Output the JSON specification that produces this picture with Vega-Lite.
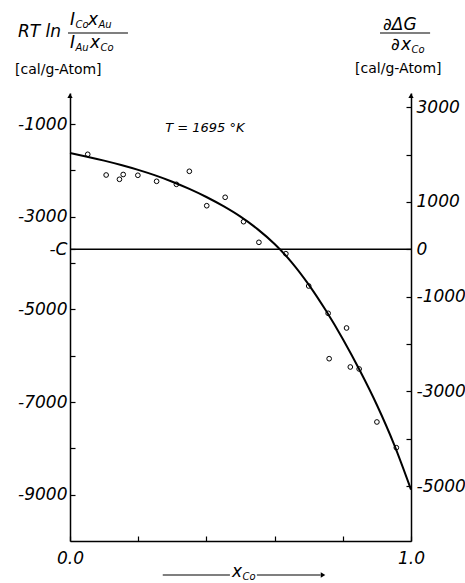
{
  "$schema": "https://vega.github.io/schema/vega-lite/v6.json",
  "width": 341,
  "height": 448,
  "autosize": {"type": "none"},
  "padding": {"left": 70, "top": 93, "right": 54, "bottom": 42},
  "background": "white",
  "config": {
    "view": {"stroke": null},
    "axis": {
      "grid": false,
      "domainColor": "black",
      "domainWidth": 1.5,
      "tickColor": "black",
      "tickWidth": 1.2,
      "tickSize": -5,
      "labelColor": "black",
      "labelFont": "DejaVu Sans",
      "labelFontStyle": "italic",
      "labelFontSize": 17,
      "title": null
    },
    "text": {"font": "DejaVu Sans", "color": "black"}
  },
  "datasets": {
    "obs": [
      {"x": 0.052, "y": -1653}, {"x": 0.106, "y": -2100}, {"x": 0.145, "y": -2193},
      {"x": 0.156, "y": -2089}, {"x": 0.199, "y": -2106}, {"x": 0.254, "y": -2236},
      {"x": 0.312, "y": -2301}, {"x": 0.350, "y": -2020}, {"x": 0.401, "y": -2763},
      {"x": 0.455, "y": -2581}, {"x": 0.509, "y": -3108}, {"x": 0.554, "y": -3553},
      {"x": 0.633, "y": -3799}, {"x": 0.700, "y": -4496}, {"x": 0.757, "y": -5085},
      {"x": 0.811, "y": -5402}, {"x": 0.760, "y": -6065}, {"x": 0.822, "y": -6244},
      {"x": 0.848, "y": -6287}, {"x": 0.900, "y": -7431}, {"x": 0.957, "y": -7986}
    ],
    "fit": [
      {"x": 0.00, "y": -1625}, {"x": 0.05, "y": -1704}, {"x": 0.10, "y": -1790},
      {"x": 0.15, "y": -1885}, {"x": 0.20, "y": -1990}, {"x": 0.25, "y": -2109},
      {"x": 0.30, "y": -2245}, {"x": 0.35, "y": -2400}, {"x": 0.40, "y": -2575},
      {"x": 0.45, "y": -2774}, {"x": 0.50, "y": -3000}, {"x": 0.55, "y": -3268},
      {"x": 0.60, "y": -3590}, {"x": 0.65, "y": -3984}, {"x": 0.70, "y": -4465},
      {"x": 0.75, "y": -5021}, {"x": 0.80, "y": -5640}, {"x": 0.85, "y": -6321},
      {"x": 0.90, "y": -7065}, {"x": 0.95, "y": -7909}, {"x": 1.00, "y": -8890}
    ],
    "glyphs": [
      {"x": -0.1525, "y": 987, "t": "RT ln"},
      {"x": 0.0, "y": 1246, "t": "I"},
      {"x": 0.0528, "y": 1246, "t": "x"},
      {"x": 0.0, "y": 749, "t": "I"},
      {"x": 0.0587, "y": 749, "t": "x"},
      {"x": 0.918, "y": 1138, "t": "∂ΔG"},
      {"x": 0.9413, "y": 706, "t": "∂"},
      {"x": 0.9707, "y": 706, "t": "x"},
      {"x": 0.475, "y": -10669, "t": "x"}
    ],
    "subs": [
      {"x": 0.016, "y": 1138, "t": "Co"},
      {"x": 0.0836, "y": 1138, "t": "Au"},
      {"x": 0.016, "y": 641, "t": "Au"},
      {"x": 0.0894, "y": 641, "t": "Co"},
      {"x": 1.0015, "y": 598, "t": "Co"},
      {"x": 0.5059, "y": -10777, "t": "Co"}
    ],
    "units": [
      {"x": -0.161, "y": 166, "t": "[cal/g-Atom]"},
      {"x": 0.836, "y": 188, "t": "[cal/g-Atom]"}
    ],
    "notes": [
      {"x": 0.279, "y": -1085, "t": "T = 1695 °K"}
    ],
    "bars": [
      {"x": -0.0059, "x2": 0.170, "y": 965},
      {"x": 0.909, "x2": 1.056, "y": 965},
      {"x": 0.272, "x2": 0.469, "y": -10734},
      {"x": 0.548, "x2": 0.735, "y": -10734}
    ],
    "heads": [
      {"x": 0.0, "y": -390, "dir": "up"},
      {"x": 1.0, "y": -390, "dir": "up"},
      {"x": 0.742, "y": -10734, "dir": "right"}
    ]
  },
  "layer": [
    {
      "layer": [
        {
          "data": {"name": "fit"},
          "mark": {"type": "line", "color": "black", "strokeWidth": 2, "interpolate": "monotone"},
          "encoding": {
            "x": {
              "field": "x", "type": "quantitative",
              "scale": {"domain": [0, 1], "nice": false, "zero": false},
              "axis": {
                "orient": "bottom",
                "values": [0, 0.1, 0.2, 0.3, 0.4, 0.5, 0.6, 0.7, 0.8, 0.9, 1.0],
                "labelExpr": "abs(datum.value * 2 - round(datum.value * 2)) < 0.001 ? format(datum.value, '.1f') : ''",
                "labelPadding": 14,
                "labelFlush": false
              }
            },
            "y": {
              "field": "y", "type": "quantitative",
              "scale": {"domain": [-10000, -330], "nice": false, "zero": false},
              "axis": {
                "orient": "left",
                "values": [-1000, -2000, -3000, -3700, -4000, -5000, -6000, -7000, -8000, -9000],
                "labelExpr": "datum.value == -3700 ? '-C' : (datum.value % 2000 == 0 ? '' : '-' + abs(datum.value))",
                "labelPadding": 8
              }
            }
          }
        },
        {
          "data": {"name": "obs"},
          "mark": {"type": "point", "shape": "circle", "filled": false, "color": "black", "size": 22, "strokeWidth": 1, "opacity": 1},
          "encoding": {
            "x": {"field": "x", "type": "quantitative"},
            "y": {"field": "y", "type": "quantitative"}
          }
        },
        {
          "data": {"name": "bars"},
          "mark": {"type": "rule", "color": "black", "strokeWidth": 1.2},
          "encoding": {
            "x": {"field": "x", "type": "quantitative"},
            "x2": {"field": "x2"},
            "y": {"field": "y", "type": "quantitative"}
          }
        },
        {
          "data": {"name": "heads"},
          "mark": {"type": "point", "filled": true, "color": "black", "size": 28, "opacity": 1},
          "encoding": {
            "x": {"field": "x", "type": "quantitative"},
            "y": {"field": "y", "type": "quantitative"},
            "shape": {
              "field": "dir", "type": "nominal",
              "scale": {"domain": ["up", "right"], "range": ["triangle-up", "triangle-right"]},
              "legend": null
            }
          }
        },
        {
          "data": {"name": "glyphs"},
          "mark": {"type": "text", "align": "left", "baseline": "middle", "fontSize": 17, "fontStyle": "italic"},
          "encoding": {
            "x": {"field": "x", "type": "quantitative"},
            "y": {"field": "y", "type": "quantitative"},
            "text": {"field": "t"}
          }
        },
        {
          "data": {"name": "subs"},
          "mark": {"type": "text", "align": "left", "baseline": "middle", "fontSize": 10, "fontStyle": "italic"},
          "encoding": {
            "x": {"field": "x", "type": "quantitative"},
            "y": {"field": "y", "type": "quantitative"},
            "text": {"field": "t"}
          }
        },
        {
          "data": {"name": "units"},
          "mark": {"type": "text", "align": "left", "baseline": "middle", "fontSize": 14},
          "encoding": {
            "x": {"field": "x", "type": "quantitative"},
            "y": {"field": "y", "type": "quantitative"},
            "text": {"field": "t"}
          }
        },
        {
          "data": {"name": "notes"},
          "mark": {"type": "text", "align": "left", "baseline": "middle", "fontSize": 13, "fontStyle": "italic"},
          "encoding": {
            "x": {"field": "x", "type": "quantitative"},
            "y": {"field": "y", "type": "quantitative"},
            "text": {"field": "t"}
          }
        }
      ]
    },
    {
      "data": {"values": [{"d": 0}]},
      "mark": {"type": "rule", "color": "black", "strokeWidth": 1.5},
      "encoding": {
        "y": {
          "field": "d", "type": "quantitative",
          "scale": {"domain": [-6160, 3300], "nice": false, "zero": false},
          "axis": {
            "orient": "right",
            "values": [3000, 2000, 1000, 0, -1000, -2000, -3000, -4000, -5000],
            "labelExpr": "datum.value != 0 && datum.value % 2000 == 0 ? '' : (datum.value < 0 ? '-' + abs(datum.value) : '' + datum.value)",
            "labelPadding": 10
          }
        }
      }
    }
  ],
  "resolve": {"scale": {"y": "independent"}}
}
